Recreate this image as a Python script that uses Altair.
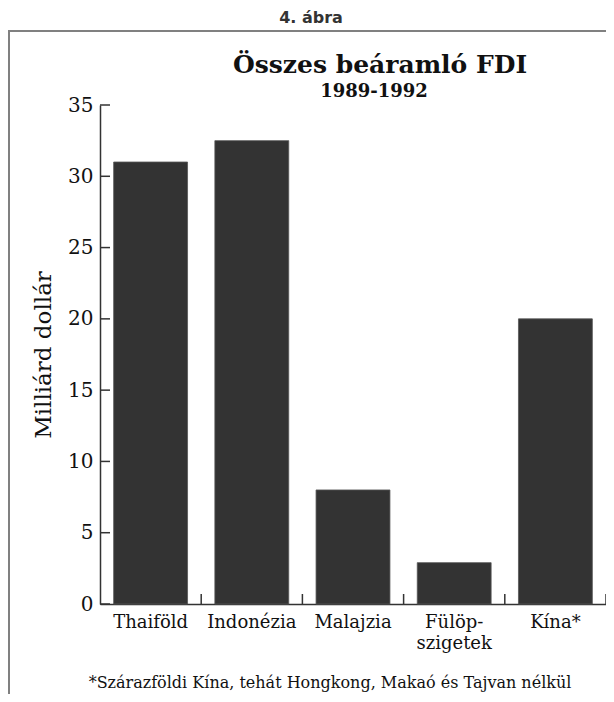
import altair as alt
import pandas as pd

categories = ["Thaiföld", "Indonézia", "Malajzia", "Fülöp-szigetek", "Kína*"]
values = [31.0, 32.5, 8.0, 2.9, 20.0]
y_ticks = [0, 5, 10, 15, 20, 25, 30, 35]
figure_label = "4. ábra"
title_text = "Összes beáramló FDI"
subtitle_text = "1989-1992"
y_title = "Milliárd dollár"
footnote = "*Szárazföldi Kína, tehát Hongkong, Makaó és Tajvan nélkül"

SERIF = "DejaVu Serif"
W, H = 506, 499
PAD_INNER = 0.27

df = pd.DataFrame({"cat": categories, "val": values})
ticks_df = pd.DataFrame({"v": y_ticks})

x_scale = alt.Scale(domain=categories, paddingInner=PAD_INNER, paddingOuter=PAD_INNER / 2)
x_step_scale = alt.Scale(domain=categories, paddingInner=0, paddingOuter=0)
y_scale = alt.Scale(domain=[0, 35], nice=False, zero=True)

x_axis = alt.Axis(
    title=None, ticks=False, domainColor="#333333", domainWidth=1.5,
    labelFont=SERIF, labelFontSize=18, labelColor="#111111", labelAngle=0,
    labelPadding=9, labelLineHeight=21,
    labelExpr="datum.value == 'Fülöp-szigetek' ? ['Fülöp-', 'szigetek'] : datum.label",
)
y_axis = alt.Axis(
    title=y_title, ticks=False, grid=False, values=y_ticks,
    domainColor="#333333", domainWidth=1.5,
    labelFont=SERIF, labelFontSize=20, labelColor="#111111", labelPadding=7,
    titleFont=SERIF, titleFontSize=23, titleFontWeight="normal", titleColor="#111111",
    titlePadding=12,
)

bars = alt.Chart(df).mark_bar(color="#333333", stroke="#555555", strokeWidth=0.8).encode(
    x=alt.X("cat:N", scale=x_scale, sort=categories, axis=x_axis),
    y=alt.Y("val:Q", scale=y_scale, axis=y_axis),
)

x_ticks = alt.Chart(df).mark_rule(color="#333333", strokeWidth=1.5).encode(
    x=alt.X("cat:N", scale=x_step_scale, sort=categories, axis=None, bandPosition=1),
    y=alt.value(H),
    y2=alt.value(H - 10),
)

y_tick_marks = alt.Chart(ticks_df).mark_rule(color="#333333", strokeWidth=1.5).encode(
    y=alt.Y("v:Q", scale=y_scale, axis=y_axis),
    x=alt.value(0),
    x2=alt.value(10),
)

def text_layer(txt, x, y, size, weight="normal", font=SERIF, color="#111111"):
    return alt.Chart(pd.DataFrame({"t": [txt]})).mark_text(
        font=font, fontSize=size, fontWeight=weight, color=color,
        align="center", baseline="alphabetic",
    ).encode(text="t:N", x=alt.value(x), y=alt.value(y))

frame_top = alt.Chart(pd.DataFrame({"t": [0]})).mark_rule(color="#808080", strokeWidth=2).encode(
    x=alt.value(-91), x2=alt.value(520), y=alt.value(-74)
)
frame_left = alt.Chart(pd.DataFrame({"t": [0]})).mark_rule(color="#808080", strokeWidth=2).encode(
    x=alt.value(-91), y=alt.value(-75), y2=alt.value(600)
)

chart = alt.layer(
    frame_top, frame_left,
    bars, x_ticks, y_tick_marks,
    text_layer(figure_label, 211, -82, 16, "bold", "DejaVu Sans", "#333333"),
    text_layer(title_text, 280, -32, 25, "bold"),
    text_layer(subtitle_text, 274, -8, 18, "bold"),
    text_layer(footnote, 230, 583, 16),
).resolve_scale(x="independent").properties(
    width=W, height=H,
    autosize=alt.AutoSizeParams(type="none"),
    padding={"left": 92, "top": 97, "right": 0, "bottom": 90},
).configure_view(stroke=None)

chart.save("out.html", embed_options={"renderer": "svg", "actions": False})
